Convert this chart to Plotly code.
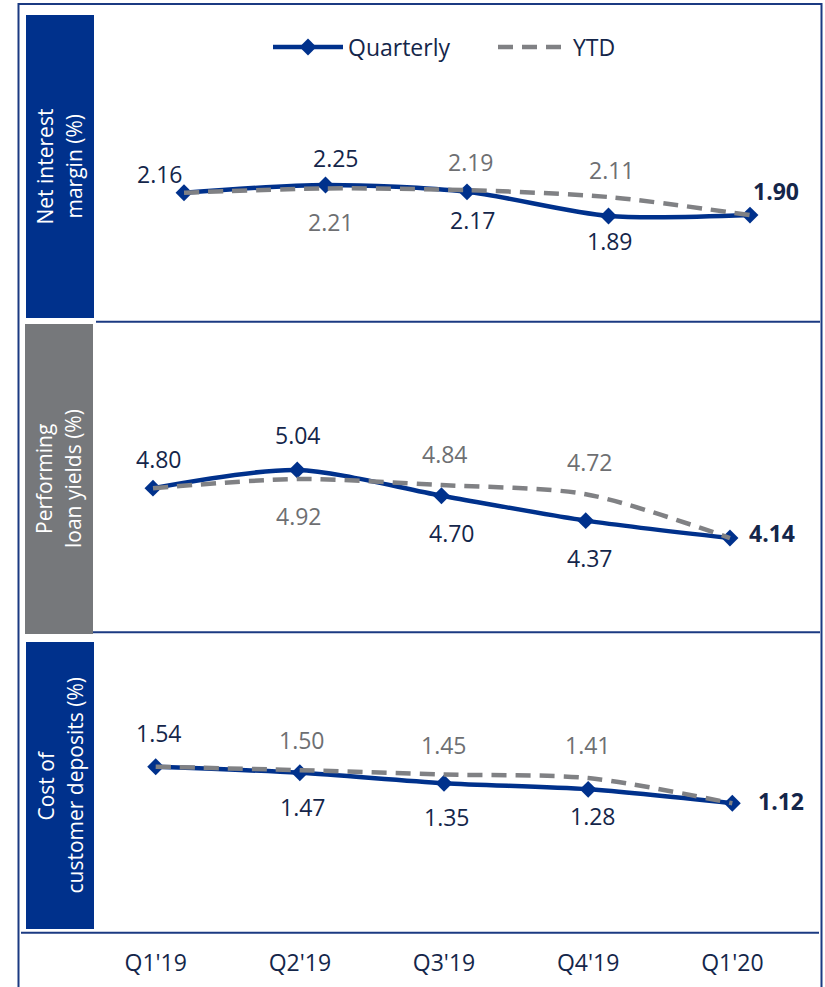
import plotly.graph_objects as go

# ---------------- data ----------------
quarters = ["Q1'19", "Q2'19", "Q3'19", "Q4'19", "Q1'20"]
nim_quarterly = [2.16, 2.25, 2.17, 1.89, 1.90]
nim_ytd = [2.16, 2.21, 2.19, 2.11, 1.90]
yield_quarterly = [4.80, 5.04, 4.70, 4.37, 4.14]
yield_ytd = [4.80, 4.92, 4.84, 4.72, 4.14]
deposit_quarterly = [1.54, 1.47, 1.35, 1.28, 1.12]
deposit_ytd = [1.54, 1.50, 1.45, 1.41, 1.12]
panel_titles = ["Net interest<br>margin (%)", "Performing<br>loan yields (%)",
                "Cost of<br>customer deposits (%)"]
series_names = ["Quarterly", "YTD"]

# ---------------- styles ----------------
W, H = 825, 987
NAVY = "#00318C"
PANEL_GRAY = "#76787B"
YTD_GRAY = "#808184"
LBL_DARK = "#14264A"
LBL_GRAY = "#6E6F72"
BORDER = "#1B3A82"
FONT = "Open Sans"
FS = 23


def px_x(p):
    return p / W


def px_y(p):
    return 1 - p / H


# panel geometry (pixels) and axis ranges
panels = [
    dict(q=nim_quarterly, y=nim_ytd, ydom=(15, 318), yrange=[0.705, 4.224],
         xrange=[-0.622, 4.509], side=(26, 94, 15, 318), side_color=NAVY,
         qshift=[(-24, 19), (10, 27), (6, -28), (2, -25), (26, 24)],
         yshift=[None, (5, -34), (4, 28), (4, 27), None]),
    dict(q=yield_quarterly, y=yield_ytd, ydom=(322, 632), yrange=[2.896, 6.999],
         xrange=[-0.395, 4.638], side=(25, 93, 324, 634), side_color=PANEL_GRAY,
         qshift=[(6, 29), (1, 35), (11, -37), (4, -37), (42, 5)],
         yshift=[None, (2, -37), (4, 31), (4, 32), None]),
    dict(q=deposit_quarterly, y=deposit_ytd, ydom=(632, 932), yrange=[-0.357, 3.086],
         xrange=[-0.414, 4.622], side=(26, 94, 642, 929), side_color=NAVY,
         qshift=[(3, 34), (3, -34), (3, -34), (5, -27), (49, 2)],
         yshift=[None, (2, 30), (0, 30), (0, 33), None]),
]

fig = go.Figure()
annotations = []
shapes = []

for i, p in enumerate(panels):
    n = "" if i == 0 else str(i + 1)
    xa, ya = "x" + n, "y" + n
    fig.add_trace(go.Scatter(
        x=quarters, y=p["q"], name=series_names[0], xaxis=xa, yaxis=ya,
        mode="lines+markers", line=dict(color=NAVY, width=4.5, shape="spline", smoothing=0.8),
        marker=dict(symbol="diamond", size=13, color=NAVY),
        showlegend=(i == 0), legendrank=1, hoverinfo="skip"))
    fig.add_trace(go.Scatter(
        x=quarters, y=p["y"], name=series_names[1], xaxis=xa, yaxis=ya,
        mode="lines", line=dict(color=YTD_GRAY, width=4.5, dash="15px,9px",
                                shape="spline", smoothing=0.8),
        showlegend=(i == 0), legendrank=2, hoverinfo="skip"))

    # data labels
    for j, q in enumerate(quarters):
        last = j == len(quarters) - 1
        dx, dy = p["qshift"][j]
        txt = f"<b>{p['q'][j]:.2f}</b>" if last else f"{p['q'][j]:.2f}"
        annotations.append(dict(x=q, y=p["q"][j], xref=xa, yref=ya, text=txt,
                                showarrow=False, xshift=dx, yshift=dy,
                                xanchor="center", yanchor="middle",
                                font=dict(family=FONT, size=FS, color=LBL_DARK)))
        if p["yshift"][j] is not None:
            dx, dy = p["yshift"][j]
            annotations.append(dict(x=q, y=p["y"][j], xref=xa, yref=ya,
                                    text=f"{p['y'][j]:.2f}", showarrow=False,
                                    xshift=dx, yshift=dy,
                                    xanchor="center", yanchor="middle",
                                    font=dict(family=FONT, size=FS, color=LBL_GRAY)))

    # side title panel
    x0, x1, y0, y1 = p["side"]
    shapes.append(dict(type="rect", xref="paper", yref="paper",
                       x0=px_x(x0), x1=px_x(x1), y0=px_y(y1), y1=px_y(y0),
                       fillcolor=p["side_color"], line=dict(width=0), layer="below"))
    lines = panel_titles[i].split("<br>")
    for k, line_txt in enumerate(lines):
        annotations.append(dict(x=px_x((x0 + x1) / 2), y=px_y((y0 + y1) / 2),
                                xref="paper", yref="paper", text=line_txt,
                                textangle=-90, showarrow=False,
                                xanchor="center", yanchor="middle",
                                xshift=(-15 if k == 0 else 14),
                                font=dict(family=FONT, size=21, color="white")))

    # axes
    fig.update_layout(**{
        ("xaxis" + n): dict(domain=[px_x(96), px_x(822)], range=p["xrange"],
                            anchor=ya, showgrid=False, zeroline=False, showline=False,
                            showticklabels=(i == 2), ticks="outside" if i == 2 else "",
                            ticklen=10, tickcolor="rgba(0,0,0,0)",
                            tickfont=dict(family=FONT, size=FS, color=LBL_DARK),
                            fixedrange=True),
        ("yaxis" + n): dict(domain=[px_y(p["ydom"][1]), px_y(p["ydom"][0])],
                            range=p["yrange"], anchor=xa, visible=False,
                            showgrid=False, zeroline=False, fixedrange=True),
    })

# separator lines
for (xs, xe, yy) in [(96, 820, 321.7), (93, 820, 632.3), (21, 819, 932.7)]:
    shapes.append(dict(type="line", xref="paper", yref="paper",
                       x0=px_x(xs), x1=px_x(xe), y0=px_y(yy), y1=px_y(yy),
                       line=dict(color=BORDER, width=2)))

# outer border
shapes.append(dict(type="rect", xref="paper", yref="paper",
                   x0=px_x(18.5), x1=px_x(821.5), y0=px_y(1000), y1=px_y(4),
                   line=dict(color=BORDER, width=2), fillcolor="rgba(0,0,0,0)"))

fig.update_layout(
    width=W, height=H, margin=dict(l=0, r=0, t=0, b=0),
    paper_bgcolor="white", plot_bgcolor="white",
    shapes=shapes, annotations=annotations,
    legend=dict(orientation="h", x=px_x(268), y=px_y(47), xanchor="left",
                yanchor="middle", font=dict(family=FONT, size=FS, color=LBL_DARK),
                itemwidth=70, entrywidth=140, entrywidthmode="pixels",
                bgcolor="rgba(0,0,0,0)", traceorder="normal"),
)

fig.write_html("out.html")
